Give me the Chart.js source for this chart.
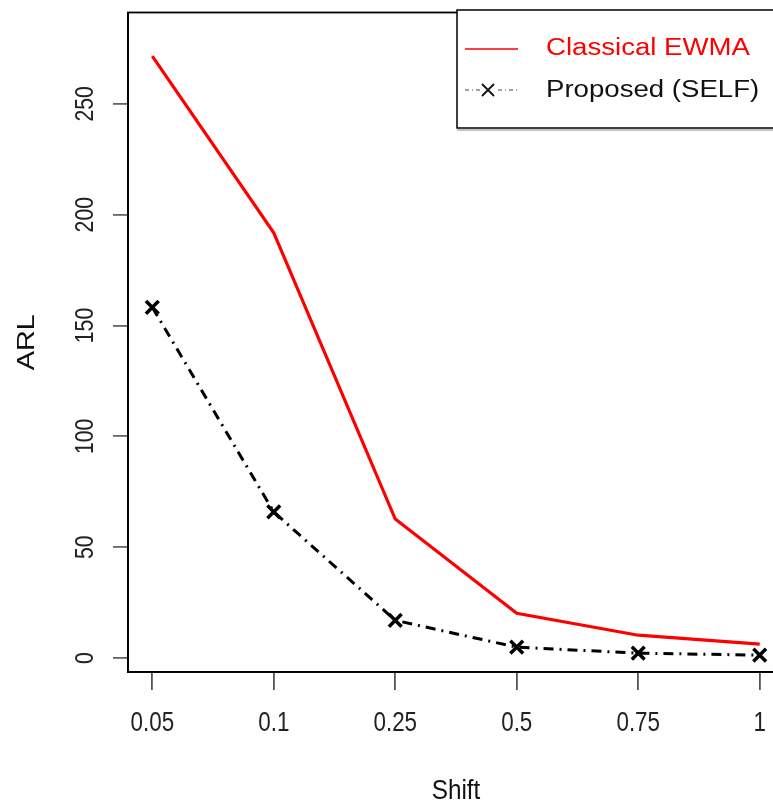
<!DOCTYPE html>
<html>
<head>
<meta charset="utf-8">
<script src="https://cdn.jsdelivr.net/npm/chart.js@4/dist/chart.umd.min.js"></script>
<style>
  html, body { margin: 0; padding: 0; background: #fff; overflow: hidden; }
  #wrap { position: relative; width: 800px; height: 803px; }
</style>
</head>
<body>
<div id="wrap"><canvas id="grafico" width="800" height="803"></canvas></div>
<script>
// datos
const shiftLabels = ['0.05', '0.1', '0.25', '0.5', '0.75', '1'];
const classicalEWMA = [271.5, 191.8, 62.7, 20.2, 10.3, 6.3];
const proposedSELF = [158.2, 65.9, 17.0, 4.9, 2.2, 1.3];
const yTicks = [0, 50, 100, 150, 200, 250];
const nombreClasico = 'Classical EWMA';
const nombrePropuesto = 'Proposed (SELF)';

const fuente = '"Liberation Sans", Arial, sans-serif';

// pasa los valores a puntos {x, y} usando el indice de la categoria
let aPuntos = (valores) => valores.map((v, i) => ({ x: i, y: v }));

// escribe un texto centrado, girado y estirado a lo ancho
let texto = (ctx, s, x, y, size, estirar, giro, align) => {
    ctx.save();
    ctx.translate(x, y);
    ctx.rotate(giro || 0);
    ctx.scale(estirar, 1);
    ctx.font = size + 'px ' + fuente;
    ctx.textAlign = align || 'center';
    ctx.textBaseline = 'middle';
    ctx.fillText(s, 0, 0);
    ctx.restore();
};

// caja del grafico, textos de los ejes y leyenda al estilo R
const estiloR = {
    id: 'estiloR',
    afterDraw(chart) {
        const { ctx, chartArea, scales } = chart;
        ctx.save();
        // caja
        ctx.strokeStyle = '#000';
        ctx.lineWidth = 1.8;
        ctx.strokeRect(chartArea.left, chartArea.top, chartArea.right - chartArea.left, chartArea.bottom - chartArea.top);

        // etiquetas del eje y giradas
        ctx.fillStyle = '#222';
        yTicks.forEach(v => {
            texto(ctx, String(v), 86, scales.y.getPixelForValue(v), 25, 0.85, -Math.PI / 2);
        });
        // etiquetas del eje x
        shiftLabels.forEach((l, i) => {
            texto(ctx, l, scales.x.getPixelForValue(i), 723, 28, 0.8);
        });

        // titulos
        ctx.fillStyle = '#111';
        texto(ctx, 'ARL', 27, (chartArea.top + chartArea.bottom) / 2, 24, 1.2, -Math.PI / 2);
        texto(ctx, 'Shift', (chartArea.left + chartArea.right) / 2, 792, 27, 0.9);

        // leyenda
        ctx.fillStyle = '#fff';
        ctx.fillRect(457, 10, 340, 118);
        ctx.strokeStyle = '#000';
        ctx.lineWidth = 1.5;
        ctx.strokeRect(457, 10, 340, 118);
        ctx.strokeStyle = '#888';
        ctx.lineWidth = 1.2;
        ctx.beginPath();
        ctx.moveTo(457, 130);
        ctx.lineTo(797, 130);
        ctx.stroke();

        ctx.strokeStyle = '#f00';
        ctx.lineWidth = 1.5;
        ctx.beginPath();
        ctx.moveTo(465, 49);
        ctx.lineTo(518, 49);
        ctx.stroke();

        ctx.strokeStyle = '#444';
        ctx.lineWidth = 1;
        ctx.setLineDash([4, 3, 1, 3]);
        ctx.beginPath();
        ctx.moveTo(465, 90);
        ctx.lineTo(518, 90);
        ctx.stroke();
        ctx.setLineDash([]);
        ctx.fillStyle = '#fff';
        ctx.fillRect(481, 82, 15, 16);
        ctx.strokeStyle = '#111';
        ctx.lineWidth = 1.8;
        ctx.beginPath();
        ctx.moveTo(482, 84); ctx.lineTo(494, 96);
        ctx.moveTo(494, 84); ctx.lineTo(482, 96);
        ctx.stroke();

        ctx.fillStyle = '#f00';
        texto(ctx, nombreClasico, 546, 49, 23, 1.2, 0, 'left');
        ctx.fillStyle = '#111';
        texto(ctx, nombrePropuesto, 546, 91, 23, 1.2, 0, 'left');
        ctx.restore();
    }
};

const ctx = document.getElementById('grafico');
let chart = new Chart(ctx, {
    type: 'line',
    data: {
        datasets: [{
                label: nombreClasico,
                data: aPuntos(classicalEWMA),
                borderColor: '#f00',
                borderWidth: 3.2,
                pointRadius: 0,
                tension: 0
            },
            {
                label: nombrePropuesto,
                data: aPuntos(proposedSELF),
                borderColor: '#000',
                borderWidth: 3,
                borderDash: [10, 6, 2, 6],
                pointStyle: 'crossRot',
                pointRadius: 9,
                pointBorderWidth: 3.5,
                pointBorderColor: '#000',
                tension: 0
            }
        ]
    },
    options: {
        responsive: false,
        animation: false,
        layout: {
            padding: { top: 4, right: 16, left: 0, bottom: 0 }
        },
        plugins: {
            legend: { display: false },
            tooltip: { enabled: false }
        },
        scales: {
            x: {
                type: 'linear',
                min: -0.2,
                max: 5.2,
                afterBuildTicks: (scale) => {
                    scale.ticks = shiftLabels.map((l, i) => ({ value: i }));
                },
                afterFit: (scale) => { scale.height = 131; },
                grid: {
                    drawOnChartArea: false,
                    drawTicks: true,
                    tickLength: 18,
                    tickColor: '#555',
                    lineWidth: 1.8
                },
                border: { display: true, color: '#000', width: 1.8 },
                ticks: { display: false }
            },
            y: {
                type: 'linear',
                min: -6.3,
                max: 291.2,
                afterBuildTicks: (scale) => {
                    scale.ticks = yTicks.map(v => ({ value: v }));
                },
                afterFit: (scale) => { scale.width = 128; },
                grid: {
                    drawOnChartArea: false,
                    drawTicks: true,
                    tickLength: 15,
                    tickColor: '#666',
                    lineWidth: 1.8
                },
                border: { display: true, color: '#000', width: 1.8 },
                ticks: { display: false }
            }
        }
    },
    plugins: [estiloR]
});
</script>
</body>
</html>
